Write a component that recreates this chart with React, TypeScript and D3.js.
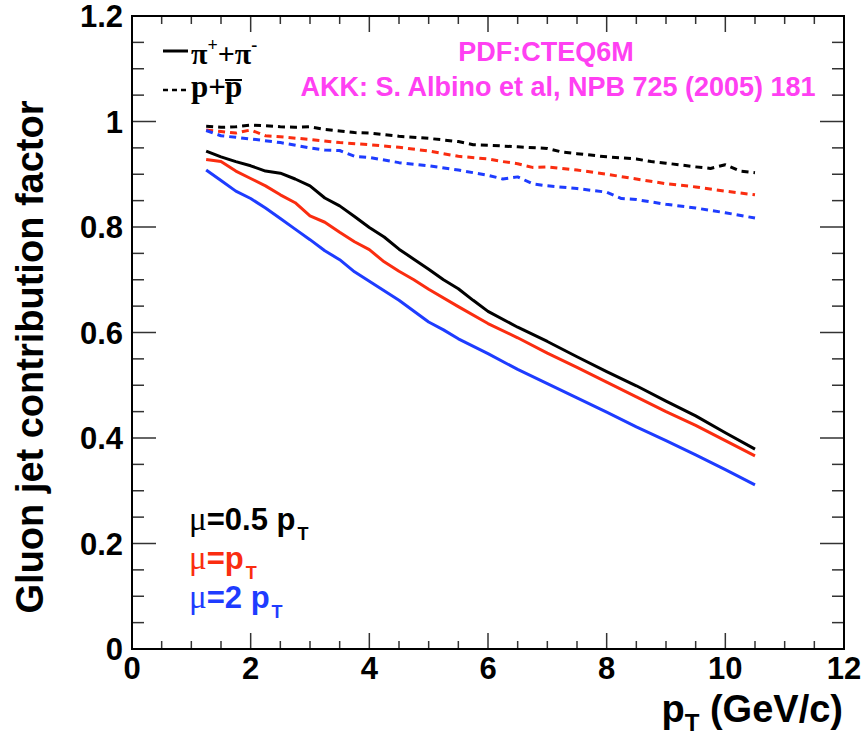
import React from "react";
import * as d3 from "d3";

// ---- data ----
const X_TICKS = [0, 2, 4, 6, 8, 10, 12];
const Y_TICKS = [0, 0.2, 0.4, 0.6, 0.8, 1, 1.2];
const Y_TICK_LABELS = ["0", "0.2", "0.4", "0.6", "0.8", "1", "1.2"];

// pi+ + pi-  (solid)
const piMuHalfX = [1.25, 1.5, 1.75, 2.0, 2.25, 2.5, 2.75, 3.0, 3.25, 3.5, 3.75, 4.0, 4.25, 4.5, 4.75, 5.0, 5.25, 5.5, 5.75, 6.0, 6.5, 7.0, 7.5, 8.0, 8.5, 9.0, 9.5, 10.0, 10.5];
const piMuHalfY = [0.944, 0.933, 0.924, 0.916, 0.906, 0.902, 0.891, 0.878, 0.855, 0.84, 0.82, 0.799, 0.781, 0.758, 0.739, 0.72, 0.7, 0.683, 0.661, 0.64, 0.61, 0.583, 0.554, 0.526, 0.499, 0.47, 0.442, 0.41, 0.379];

const piMu1X = [1.25, 1.5, 1.75, 2.0, 2.25, 2.5, 2.75, 3.0, 3.25, 3.5, 3.75, 4.0, 4.25, 4.5, 4.75, 5.0, 5.5, 6.0, 6.5, 7.0, 7.5, 8.0, 8.5, 9.0, 9.5, 10.0, 10.5];
const piMu1Y = [0.928, 0.924, 0.906, 0.892, 0.878, 0.861, 0.846, 0.821, 0.809, 0.79, 0.772, 0.757, 0.734, 0.716, 0.7, 0.682, 0.649, 0.617, 0.59, 0.561, 0.534, 0.506, 0.478, 0.45, 0.424, 0.395, 0.366];

const piMu2X = [1.25, 1.5, 1.75, 2.0, 2.25, 2.5, 2.75, 3.0, 3.25, 3.5, 3.75, 4.0, 4.5, 5.0, 5.25, 5.5, 6.0, 6.5, 7.0, 7.5, 8.0, 8.5, 9.0, 9.5, 10.0, 10.5];
const piMu2Y = [0.908, 0.888, 0.868, 0.854, 0.836, 0.816, 0.796, 0.776, 0.755, 0.738, 0.715, 0.697, 0.661, 0.62, 0.605, 0.588, 0.56, 0.53, 0.503, 0.476, 0.449, 0.421, 0.395, 0.368, 0.34, 0.311];

// p + pbar (dashed)
const pMuHalfX = [1.25, 1.5, 1.75, 2.0, 2.25, 2.5, 2.75, 3.0, 3.25, 3.5, 3.75, 4.0, 4.5, 5.0, 5.5, 5.75, 6.0, 6.5, 7.0, 7.25, 7.5, 8.0, 8.5, 8.75, 9.0, 9.5, 9.75, 10.0, 10.25, 10.5];
const pMuHalfY = [0.991, 0.989, 0.99, 0.993, 0.992, 0.99, 0.989, 0.99, 0.985, 0.982, 0.979, 0.978, 0.972, 0.968, 0.962, 0.956, 0.955, 0.952, 0.949, 0.942, 0.939, 0.933, 0.929, 0.924, 0.921, 0.914, 0.911, 0.918, 0.906, 0.903];

const pMu1X = [1.25, 1.5, 1.75, 2.0, 2.25, 2.5, 3.0, 3.5, 4.0, 4.5, 5.0, 5.5, 6.0, 6.25, 6.5, 6.75, 7.0, 7.5, 8.0, 8.5, 9.0, 9.5, 10.0, 10.5];
const pMu1Y = [0.984, 0.981, 0.978, 0.984, 0.973, 0.971, 0.966, 0.96, 0.956, 0.951, 0.944, 0.934, 0.929, 0.924, 0.92, 0.913, 0.914, 0.908, 0.9, 0.891, 0.882, 0.876, 0.868, 0.861];

const pMu2X = [1.25, 1.5, 1.75, 2.0, 2.5, 3.0, 3.25, 3.5, 3.75, 4.0, 4.5, 5.0, 5.5, 6.0, 6.25, 6.5, 6.75, 7.0, 7.5, 8.0, 8.25, 8.5, 9.0, 9.5, 10.0, 10.5];
const pMu2Y = [0.983, 0.973, 0.97, 0.967, 0.96, 0.95, 0.946, 0.945, 0.934, 0.932, 0.922, 0.916, 0.908, 0.898, 0.891, 0.895, 0.882, 0.878, 0.873, 0.866, 0.854, 0.852, 0.843, 0.836, 0.827, 0.817];

const BLACK = "#000000";
const RED = "#fa2d10";
const BLUE = "#1e3cff";
const MAGENTA = "#ff40f2";

const SERIES = [
  { xs: piMuHalfX, ys: piMuHalfY, color: BLACK, dashed: false },
  { xs: piMu1X, ys: piMu1Y, color: RED, dashed: false },
  { xs: piMu2X, ys: piMu2Y, color: BLUE, dashed: false },
  { xs: pMuHalfX, ys: pMuHalfY, color: BLACK, dashed: true },
  { xs: pMu1X, ys: pMu1Y, color: RED, dashed: true },
  { xs: pMu2X, ys: pMu2Y, color: BLUE, dashed: true },
];

const MU_LABELS = ["=0.5 p", "=p", "=2 p"];
const MU_COLORS = [BLACK, RED, BLUE];

const W = 863;
const H = 739;
const L = 132, R = 844, T = 16, B = 649;
const SANS = "'Liberation Sans', Arial, Helvetica, sans-serif";
const SERIF = "'Liberation Serif', 'Times New Roman', serif";

export default function App() {
  const x = d3.scaleLinear().domain([0, 12]).range([L, R]);
  const y = d3.scaleLinear().domain([0, 1.2]).range([B, T]);
  const line = d3
    .line<[number, number]>()
    .x((d) => x(d[0]))
    .y((d) => y(d[1]));

  const xMinor = d3.range(0, 12.001, 0.5);
  const yMinor = d3.range(0, 1.2001, 0.05);
  const isMajorX = (v: number) => Math.abs(v / 2 - Math.round(v / 2)) < 1e-6;
  const isMajorY = (v: number) => Math.abs(v / 0.2 - Math.round(v / 0.2)) < 1e-6;
  const muBaselines = [530, 569, 608];

  return (
    <svg width={W} height={H} style={{ position: "absolute", left: 0, top: 0, background: "#fff" }}>
      <rect x={0} y={0} width={W} height={H} fill="#fff" />
      {/* curves */}
      <g fill="none" strokeWidth={3} strokeLinejoin="round">
        {SERIES.map((s, i) => (
          <path
            key={i}
            d={line(s.xs.map((v, j) => [v, s.ys[j]] as [number, number])) || ""}
            stroke={s.color}
            strokeDasharray={s.dashed ? "7,5" : undefined}
          />
        ))}
      </g>
      {/* ticks */}
      <g stroke="#333" strokeWidth={1.5}>
        {xMinor.map((v, i) => {
          const len = isMajorX(v) ? 16 : 8;
          return (
            <g key={"xt" + i}>
              <line x1={x(v)} x2={x(v)} y1={B} y2={B - len} />
              <line x1={x(v)} x2={x(v)} y1={T} y2={T + len} />
            </g>
          );
        })}
        {yMinor.map((v, i) => {
          const len = isMajorY(v) ? 24 : 12;
          return (
            <g key={"yt" + i}>
              <line x1={L} x2={L + len} y1={y(v)} y2={y(v)} />
              <line x1={R} x2={R - len} y1={y(v)} y2={y(v)} />
            </g>
          );
        })}
      </g>
      {/* frame */}
      <rect x={L} y={T} width={R - L} height={B - T} fill="none" stroke="#000" strokeWidth={2} />
      {/* tick labels */}
      <g fontFamily={SANS} fontWeight="bold" fontSize={31} fill="#000">
        {Y_TICKS.map((v, i) => (
          <text key={"yl" + i} x={L - 9} y={y(v)} dy="0.36em" textAnchor="end">
            {Y_TICK_LABELS[i]}
          </text>
        ))}
        {X_TICKS.map((v, i) => (
          <text key={"xl" + i} x={x(v)} y={679} textAnchor="middle">
            {String(v)}
          </text>
        ))}
      </g>
      {/* axis titles */}
      <text
        transform={`translate(43,357) rotate(-90)`}
        textAnchor="middle"
        fontFamily={SANS}
        fontWeight="bold"
        fontSize={38}
      >
        Gluon jet contribution factor
      </text>
      <text x={843} y={722} textAnchor="end" fontFamily={SANS} fontWeight="bold" fontSize={38}>
        p<tspan fontSize={24} dy={9}>T</tspan>
        <tspan dy={-9}> (GeV/c)</tspan>
      </text>
      {/* legend */}
      <line x1={163} x2={188} y1={51} y2={51} stroke={BLACK} strokeWidth={3} />
      <text x={191} y={64} fontFamily={SERIF} fontWeight="bold" fontSize={30}>
        π<tspan fontSize={18} dy={-13}>+</tspan>
        <tspan dy={13}>+π</tspan>
        <tspan fontSize={18} dy={-13}>-</tspan>
      </text>
      <line x1={163} x2={188} y1={90} y2={90} stroke={BLACK} strokeWidth={2.5} strokeDasharray="5,4" />
      <text x={191} y={97} fontFamily={SERIF} fontWeight="bold" fontSize={31}>
        p+
      </text>
      <text x={225} y={97} fontFamily={SERIF} fontWeight="bold" fontSize={31}>
        p
      </text>
      <line x1={225} x2={242} y1={80} y2={80} stroke={BLACK} strokeWidth={2} />
      {/* magenta notes */}
      <g fontFamily={SANS} fontWeight="bold" fontSize={27} fill={MAGENTA}>
        <text x={546} y={61} textAnchor="middle">PDF:CTEQ6M</text>
        <text x={558} y={96} textAnchor="middle">AKK: S. Albino et al, NPB 725 (2005) 181</text>
      </g>
      {/* scale labels */}
      {MU_LABELS.map((t, i) => (
        <text key={"mu" + i} x={189} y={muBaselines[i]} fill={MU_COLORS[i]} fontFamily={SANS} fontWeight="bold" fontSize={31}>
          <tspan fontFamily={SERIF} fontWeight="normal" fontSize={33}>μ</tspan>
          {t}
          <tspan fontSize={18} dy={10} dx={2}>T</tspan>
        </text>
      ))}
    </svg>
  );
}
